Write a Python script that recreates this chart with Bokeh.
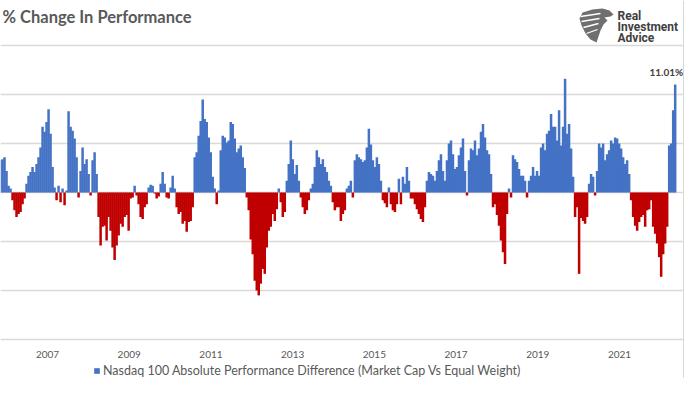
import numpy as np
from bokeh.plotting import figure
from bokeh.models import (Legend, LegendItem, FixedTicker, Grid, Span, Range1d)
from bokeh.core.properties import value
from bokeh.embed import file_html
from bokeh.resources import INLINE

TITLE = "% Change In Performance"
SERIES_NAME = "Nasdaq 100 Absolute Performance Difference (Market Cap Vs Equal Weight)"
YEAR_TICKS = [2007, 2009, 2011, 2013, 2015, 2017, 2019, 2021]
GRID_LEVELS = [-15, -10, -5, 0, 5, 10, 15]
LOGO_LINES = ["Real", "Investment", "Advice"]

# observation dates: regular sampling in fractional years
START_YEAR = 2005.85
STEP_YEARS = 0.049

# % difference, in date order
vals_2005_2008 = [3.3, 3.4, 3.6, 2.2, 0.7, 0.4, -0.8, -1.8, -2.5, -2.2,
                  -2.0, -1.2, -0.6, 0.9, 1.7, 2.1, 2.6, 2.1, 2.9, 3.6,
                  4.6, 6.7, 6.2, 7.2, 8.5, 6.0, 2.6, 0.5, -0.8, 0.7,
                  -1.0, 0.4, -1.3, 0.2, 8.3, 6.7, 6.3, 5.5, 3.6, -0.5,
                  2.2, 4.6, 2.9, 3.4, 1.9, -0.3, 3.3, 4.1, 1.9, -2.5,
                  -5.4, -3.5, -3.4, -4.9, -2.5, -3.9]
vals_2008_2011 = [-5.6, -6.9, -5.4, -4.4, -3.2, -3.5, -2.5, -2.3, -3.9, -0.6,
                  -0.5, 0.7, -0.3, -1.2, -2.5, -2.7, -1.5, -1.2, 0.5, 0.8,
                  0.7, -0.1, -0.6, -0.4, 0.9, 2.1, 0.9, -0.5, -0.6, 0.5,
                  1.7, 0.4, -1.5, -2.2, -2.0, -3.2, -2.9, -4.0, -3.0, -2.9,
                  -1.5, 3.6, 4.1, 5.8, 7.3, 9.5, 7.5, 7.2, 5.6, 4.1,
                  1.6, 0.4, -1.2, 0.2, 4.3, 5.8]
vals_2011_2014 = [5.6, 5.1, 5.3, 7.2, 7.0, 5.5, 4.1, 4.5, 4.8, 3.6,
                  2.5, -0.5, -1.8, -4.8, -6.3, -9.0, -10.0, -10.5, -9.3, -7.8,
                  -8.3, -5.6, -3.9, -3.5, -2.2, -2.9, -1.7, 0.4, -1.0, -2.5,
                  -2.0, 1.2, 2.9, 5.3, 3.4, 1.9, 2.8, 1.2, -0.5, -1.5,
                  -2.2, -1.8, -0.8, 0.4, 0.9, 2.6, 4.3, 3.6, 2.9, 3.4,
                  2.6, 2.1, 1.2, 0.7, -1.0, -1.8]
vals_2014_2017 = [-1.5, -1.5, -2.9, -2.2, -1.8, 0.4, 0.7, 1.2, -0.5, 3.3,
                  3.9, 3.6, 3.4, 3.1, 3.3, 4.6, 6.5, 4.9, 3.3, 2.6,
                  3.6, 2.9, 1.2, -0.8, -1.1, -1.5, 0.5, -1.2, -1.8, -2.0,
                  -1.2, 1.4, -1.2, 1.6, 0.9, 2.6, 1.2, -0.6, -0.6, -1.2,
                  -1.7, -2.2, -2.7, -3.0, -1.5, 1.2, 2.1, 1.9, 1.7, 1.2,
                  2.2, 3.3, 3.9, 2.2, 1.2, 3.3]
vals_2017_2019 = [5.0, 5.3, 3.9, 2.4, 2.6, 3.8, 4.6, 5.5, 2.2, -0.3,
                  3.3, 4.5, 4.3, 5.3, 3.8, 4.5, 6.2, 7.0, 5.6, 4.3,
                  3.9, 1.9, -1.5, -1.2, -2.3, -3.4, -4.9, -6.1, -7.3, -2.2,
                  0.4, -0.5, 3.8, 3.4, 3.1, 2.4, 1.7, 1.7, 1.2, -0.5,
                  1.2, 1.7, 2.6, 1.7, 2.2, 1.7, 4.6, 5.0, 4.3, 6.0,
                  6.3, 8.0, 6.7, 6.7, 5.3, 8.4]
vals_2019_2022 = [4.8, 6.7, 11.6, 6.0, 7.0, 4.5, 1.6, -2.5, -1.5, -8.3,
                  -2.6, -2.9, -3.2, -2.5, 0.9, 1.9, 1.6, -0.3, 2.2, 5.0,
                  4.6, 5.0, 3.3, 3.9, 4.3, 5.3, 5.0, 5.6, 5.5, 5.0,
                  4.5, 3.6, 2.9, 3.3, 1.9, -0.8, -2.5, -3.4, -3.9, -3.0,
                  -2.5, -2.3, -3.5, -1.8, -1.7, -0.8, -3.5, -4.2, -5.2, -6.6,
                  -8.6, -6.3, -5.2, -3.5, 4.8, 5.0, 8.4, 11.01]

vals = np.array(vals_2005_2008 + vals_2008_2011 + vals_2011_2014 +
                vals_2014_2017 + vals_2017_2019 + vals_2019_2022)
dates = START_YEAR + STEP_YEARS * np.arange(len(vals))

# ---- layout helpers (canvas pixel -> data units) ----
PX_PER_YEAR = 40.857
PX_PER_PCT = 9.8
def X(px):
    return 2007 + (px - 47) / PX_PER_YEAR
def Y(py):
    return (192 - py) / PX_PER_PCT

W, H = 684, 378
p = figure(width=W, height=H, output_backend="svg", toolbar_location=None,
           x_axis_type=None, y_axis_type=None,
           x_range=Range1d(X(0), X(W)), y_range=Range1d(Y(H), Y(0)),
           min_border=0, min_border_left=0, min_border_right=0,
           min_border_top=0, min_border_bottom=0)
p.outline_line_color = None
p.background_fill_color = "white"
p.border_fill_color = "white"

grid = Grid(dimension=1, ticker=FixedTicker(ticks=GRID_LEVELS),
            grid_line_color="#d9d9d9", grid_line_width=1.5,
            bounds=(X(0), X(677)))
p.add_layout(grid)

pos = vals >= 0
neg = ~pos
blue = p.vbar(x=dates[pos], top=vals[pos], bottom=0, width=STEP_YEARS * 1.25,
              fill_color="#4472C4", line_color=None)
red = p.vbar(x=dates[neg], top=vals[neg], bottom=0, width=STEP_YEARS * 1.25,
             fill_color="#C00000", line_color=None)

# value label on the last bar
p.text(x=[dates[-1]], y=[vals[-1]], text=[f"{vals[-1]:.2f}%"],
       text_font=value("Lato"), text_font_style="bold", text_font_size="10px",
       text_color="#404040", text_align="right", text_baseline="bottom",
       x_offset=8, y_offset=-7)

# year labels
p.text(x=YEAR_TICKS, y=[Y(354)] * len(YEAR_TICKS), text=[str(t) for t in YEAR_TICKS],
       text_font=value("Lato"), text_font_size="10px", text_color="#595959",
       text_align="center", text_baseline="middle")

# title
p.text(x=[X(2)], y=[Y(16)], text=[TITLE], text_font=value("Lato"),
       text_font_style="bold", text_font_size="16.5px", text_color="#595959",
       text_align="left", text_baseline="middle")

# logo: stylised eagle head + wordmark
eagle_x = [582, 592, 602, 609, 613, 610, 604, 607, 603, 600, 598, 596, 590, 585, 581, 579]
eagle_y = [12, 9, 8, 10, 14, 16, 17, 20, 24, 30, 36, 42, 39, 33, 25, 18]
p.patch(x=[X(v) for v in eagle_x], y=[Y(v) for v in eagle_y],
        fill_color="#6f6f6f", line_color=None)
for (x0, y0, x1, y1) in [(580, 16, 600, 13), (581, 21, 599, 18), (583, 27, 598, 23), (586, 33, 597, 29)]:
    p.line(x=[X(x0), X(x1)], y=[Y(y0), Y(y1)], line_color="white", line_width=1.3)
p.text(x=[X(617)] * 3, y=[Y(15), Y(26), Y(37)], text=LOGO_LINES,
       text_font=value("Roboto"), text_font_style="bold", text_font_size="12px",
       text_color="#404040", text_align="left", text_baseline="middle")

# right frame border of the original image
p.add_layout(Span(location=X(683), dimension="height", line_color="#d9d9d9", line_width=1))

legend = Legend(items=[LegendItem(label=SERIES_NAME, renderers=[blue])],
                location=(93, 0), orientation="horizontal",
                border_line_color=None, background_fill_alpha=0,
                padding=0, margin=0, spacing=0,
                glyph_width=7, glyph_height=7, label_standoff=3, label_height=12,
                label_text_font="Lato", label_text_font_size="12.5px",
                label_text_color="#595959")
p.add_layout(legend)

open("out.html", "w").write(file_html(p, INLINE))
